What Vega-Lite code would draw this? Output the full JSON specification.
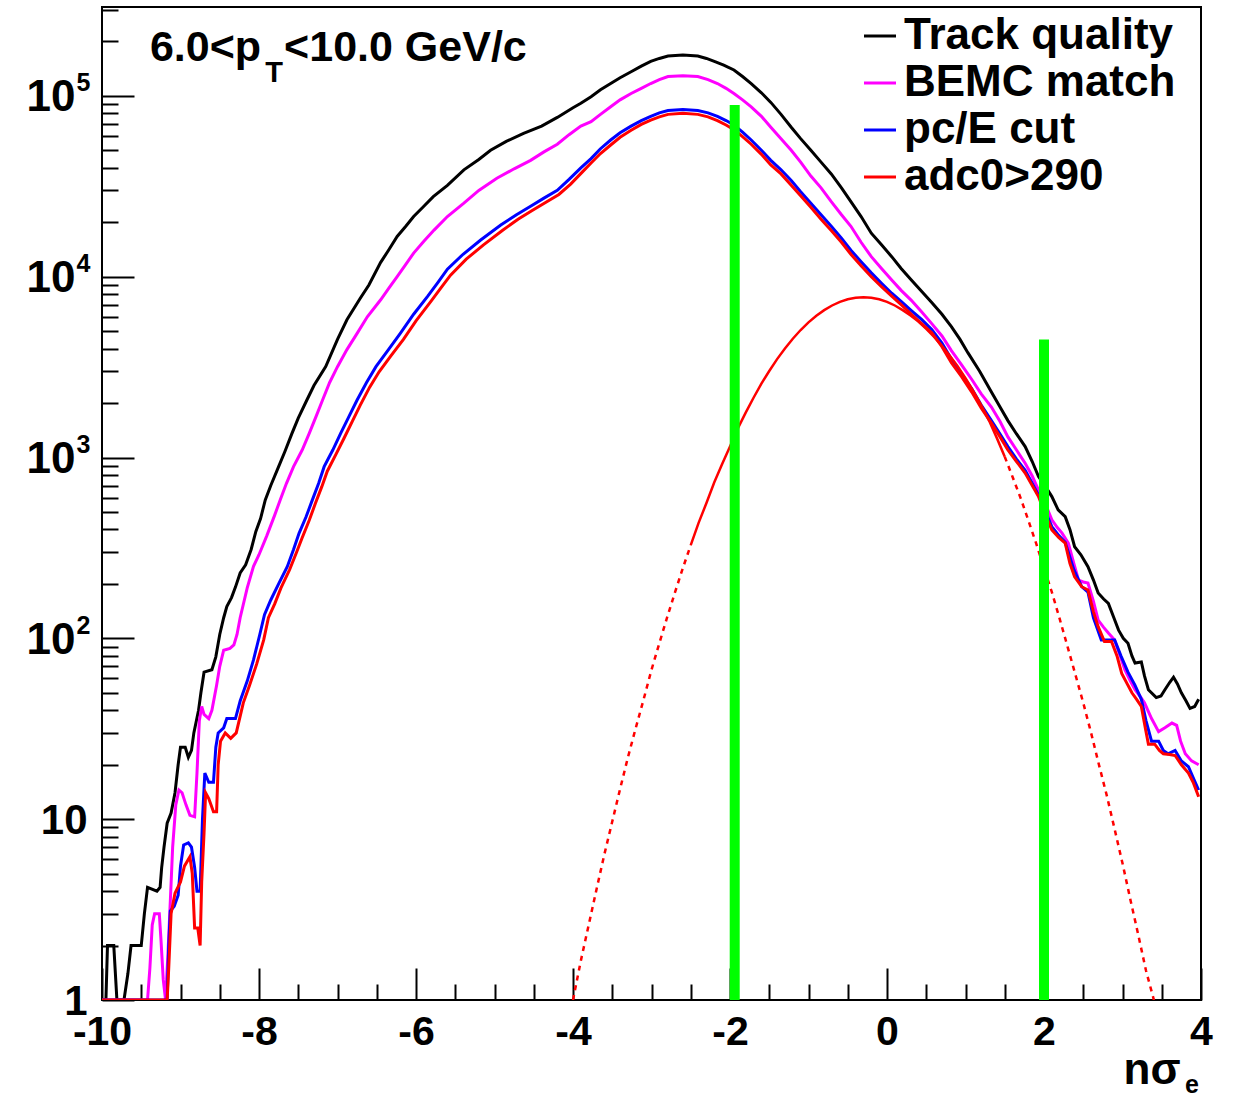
{
  "$schema": "https://vega.github.io/schema/vega-lite/v6.json",
  "width": 1099,
  "height": 993,
  "autosize": {"type": "none"},
  "padding": {"left": 102, "top": 7, "right": 32, "bottom": 99},
  "background": "white",
  "config": {
    "view": {"stroke": "black", "strokeWidth": 2},
    "font": "Liberation Sans",
    "axis": {"grid": false, "domain": false, "labelFont": "Liberation Sans", "labelFontWeight": "bold", "labelColor": "black", "tickColor": "black", "tickWidth": 2, "titleFont": "Liberation Sans", "titleFontWeight": "bold", "titleColor": "black"},
    "legend": {"labelFont": "Liberation Sans", "labelFontWeight": "bold", "labelColor": "black"}
  },
  "datasets": {
    "hist": [
      {"series":"Track quality","x":-10,"y":1},{"series":"Track quality","x":-9.95,"y":1},{"series":"Track quality","x":-9.93,"y":2},{"series":"Track quality","x":-9.85,"y":2},{"series":"Track quality","x":-9.81,"y":1},{"series":"Track quality","x":-9.72,"y":1},{"series":"Track quality","x":-9.67,"y":1.4},{"series":"Track quality","x":-9.63,"y":2},{"series":"Track quality","x":-9.5,"y":2},{"series":"Track quality","x":-9.46,"y":3},{"series":"Track quality","x":-9.42,"y":4.2},{"series":"Track quality","x":-9.3,"y":4},{"series":"Track quality","x":-9.26,"y":4.2},{"series":"Track quality","x":-9.24,"y":5.4},{"series":"Track quality","x":-9.21,"y":7},{"series":"Track quality","x":-9.17,"y":9.5},{"series":"Track quality","x":-9.12,"y":10.8},{"series":"Track quality","x":-9.07,"y":14},{"series":"Track quality","x":-9.03,"y":20},{"series":"Track quality","x":-9.0,"y":25},{"series":"Track quality","x":-8.94,"y":25},{"series":"Track quality","x":-8.9,"y":22},{"series":"Track quality","x":-8.86,"y":24},{"series":"Track quality","x":-8.83,"y":30},{"series":"Track quality","x":-8.77,"y":40},{"series":"Track quality","x":-8.74,"y":50},{"series":"Track quality","x":-8.7,"y":65},{"series":"Track quality","x":-8.6,"y":67},{"series":"Track quality","x":-8.55,"y":79},{"series":"Track quality","x":-8.5,"y":105},{"series":"Track quality","x":-8.45,"y":130},{"series":"Track quality","x":-8.41,"y":150},{"series":"Track quality","x":-8.35,"y":168},{"series":"Track quality","x":-8.3,"y":192},{"series":"Track quality","x":-8.24,"y":230},{"series":"Track quality","x":-8.17,"y":255},{"series":"Track quality","x":-8.1,"y":310},{"series":"Track quality","x":-8.04,"y":390},{"series":"Track quality","x":-7.98,"y":460},{"series":"Track quality","x":-7.92,"y":583},{"series":"Track quality","x":-7.85,"y":700},{"series":"Track quality","x":-7.75,"y":890},{"series":"Track quality","x":-7.67,"y":1080},{"series":"Track quality","x":-7.58,"y":1360},{"series":"Track quality","x":-7.5,"y":1650},{"series":"Track quality","x":-7.39,"y":2080},{"series":"Track quality","x":-7.3,"y":2500},{"series":"Track quality","x":-7.15,"y":3180},{"series":"Track quality","x":-7.0,"y":4500},{"series":"Track quality","x":-6.88,"y":5780},{"series":"Track quality","x":-6.71,"y":7600},{"series":"Track quality","x":-6.6,"y":9000},{"series":"Track quality","x":-6.45,"y":12000},{"series":"Track quality","x":-6.35,"y":14000},{"series":"Track quality","x":-6.24,"y":16700},{"series":"Track quality","x":-6.13,"y":19000},{"series":"Track quality","x":-6.03,"y":21500},{"series":"Track quality","x":-5.9,"y":24500},{"series":"Track quality","x":-5.78,"y":27700},{"series":"Track quality","x":-5.6,"y":32000},{"series":"Track quality","x":-5.39,"y":39000},{"series":"Track quality","x":-5.2,"y":44500},{"series":"Track quality","x":-5.05,"y":50000},{"series":"Track quality","x":-4.85,"y":56000},{"series":"Track quality","x":-4.63,"y":62000},{"series":"Track quality","x":-4.4,"y":68000},{"series":"Track quality","x":-4.2,"y":76000},{"series":"Track quality","x":-4.0,"y":86000},{"series":"Track quality","x":-3.9,"y":91000},{"series":"Track quality","x":-3.77,"y":99000},{"series":"Track quality","x":-3.65,"y":108000},{"series":"Track quality","x":-3.52,"y":117000},{"series":"Track quality","x":-3.4,"y":126000},{"series":"Track quality","x":-3.26,"y":136000},{"series":"Track quality","x":-3.13,"y":146000},{"series":"Track quality","x":-3.01,"y":155000},{"series":"Track quality","x":-2.9,"y":161000},{"series":"Track quality","x":-2.79,"y":166000},{"series":"Track quality","x":-2.6,"y":168000},{"series":"Track quality","x":-2.41,"y":166000},{"series":"Track quality","x":-2.3,"y":161000},{"series":"Track quality","x":-2.2,"y":155000},{"series":"Track quality","x":-2.08,"y":148000},{"series":"Track quality","x":-1.95,"y":139000},{"series":"Track quality","x":-1.84,"y":128000},{"series":"Track quality","x":-1.73,"y":117000},{"series":"Track quality","x":-1.6,"y":104000},{"series":"Track quality","x":-1.48,"y":92000},{"series":"Track quality","x":-1.35,"y":79000},{"series":"Track quality","x":-1.22,"y":67000},{"series":"Track quality","x":-1.1,"y":58000},{"series":"Track quality","x":-0.97,"y":50000},{"series":"Track quality","x":-0.84,"y":43000},{"series":"Track quality","x":-0.71,"y":37000},{"series":"Track quality","x":-0.58,"y":31000},{"series":"Track quality","x":-0.46,"y":26000},{"series":"Track quality","x":-0.33,"y":21500},{"series":"Track quality","x":-0.2,"y":17400},{"series":"Track quality","x":-0.07,"y":15000},{"series":"Track quality","x":0.06,"y":12900},{"series":"Track quality","x":0.18,"y":11100},{"series":"Track quality","x":0.31,"y":9600},{"series":"Track quality","x":0.44,"y":8300},{"series":"Track quality","x":0.57,"y":7200},{"series":"Track quality","x":0.7,"y":6200},{"series":"Track quality","x":0.82,"y":5300},{"series":"Track quality","x":0.93,"y":4500},{"series":"Track quality","x":1.03,"y":3800},{"series":"Track quality","x":1.18,"y":3000},{"series":"Track quality","x":1.33,"y":2300},{"series":"Track quality","x":1.44,"y":1900},{"series":"Track quality","x":1.54,"y":1600},{"series":"Track quality","x":1.65,"y":1350},{"series":"Track quality","x":1.76,"y":1150},{"series":"Track quality","x":1.85,"y":950},{"series":"Track quality","x":1.93,"y":784},{"series":"Track quality","x":2.02,"y":690},{"series":"Track quality","x":2.1,"y":608},{"series":"Track quality","x":2.18,"y":514},{"series":"Track quality","x":2.27,"y":471},{"series":"Track quality","x":2.33,"y":400},{"series":"Track quality","x":2.39,"y":321},{"series":"Track quality","x":2.47,"y":290},{"series":"Track quality","x":2.56,"y":249},{"series":"Track quality","x":2.63,"y":210},{"series":"Track quality","x":2.69,"y":178},{"series":"Track quality","x":2.76,"y":165},{"series":"Track quality","x":2.82,"y":156},{"series":"Track quality","x":2.89,"y":130},{"series":"Track quality","x":2.95,"y":111},{"series":"Track quality","x":3.01,"y":100},{"series":"Track quality","x":3.07,"y":94},{"series":"Track quality","x":3.12,"y":80},{"series":"Track quality","x":3.16,"y":73},{"series":"Track quality","x":3.24,"y":74},{"series":"Track quality","x":3.28,"y":62},{"series":"Track quality","x":3.33,"y":52},{"series":"Track quality","x":3.43,"y":47},{"series":"Track quality","x":3.49,"y":48},{"series":"Track quality","x":3.54,"y":52},{"series":"Track quality","x":3.6,"y":57},{"series":"Track quality","x":3.65,"y":61},{"series":"Track quality","x":3.7,"y":56},{"series":"Track quality","x":3.75,"y":50},{"series":"Track quality","x":3.81,"y":45},{"series":"Track quality","x":3.86,"y":41},{"series":"Track quality","x":3.92,"y":42},{"series":"Track quality","x":3.97,"y":46},

      {"series":"BEMC match","x":-10,"y":1},{"series":"BEMC match","x":-9.42,"y":1},{"series":"BEMC match","x":-9.39,"y":1.5},{"series":"BEMC match","x":-9.36,"y":2.6},{"series":"BEMC match","x":-9.33,"y":3},{"series":"BEMC match","x":-9.27,"y":3},{"series":"BEMC match","x":-9.25,"y":2.2},{"series":"BEMC match","x":-9.22,"y":1.3},{"series":"BEMC match","x":-9.19,"y":1},{"series":"BEMC match","x":-9.16,"y":1.8},{"series":"BEMC match","x":-9.13,"y":3.5},{"series":"BEMC match","x":-9.1,"y":7},{"series":"BEMC match","x":-9.06,"y":12},{"series":"BEMC match","x":-9.02,"y":14.5},{"series":"BEMC match","x":-8.98,"y":14},{"series":"BEMC match","x":-8.93,"y":12},{"series":"BEMC match","x":-8.88,"y":10.5},{"series":"BEMC match","x":-8.82,"y":10.3},{"series":"BEMC match","x":-8.79,"y":18},{"series":"BEMC match","x":-8.76,"y":35},{"series":"BEMC match","x":-8.73,"y":42},{"series":"BEMC match","x":-8.7,"y":38},{"series":"BEMC match","x":-8.64,"y":36},{"series":"BEMC match","x":-8.6,"y":40},{"series":"BEMC match","x":-8.54,"y":55},{"series":"BEMC match","x":-8.5,"y":70},{"series":"BEMC match","x":-8.45,"y":86},{"series":"BEMC match","x":-8.37,"y":88},{"series":"BEMC match","x":-8.32,"y":92},{"series":"BEMC match","x":-8.28,"y":105},{"series":"BEMC match","x":-8.24,"y":130},{"series":"BEMC match","x":-8.15,"y":190},{"series":"BEMC match","x":-8.07,"y":250},{"series":"BEMC match","x":-8.0,"y":290},{"series":"BEMC match","x":-7.9,"y":370},{"series":"BEMC match","x":-7.8,"y":480},{"series":"BEMC match","x":-7.73,"y":583},{"series":"BEMC match","x":-7.65,"y":720},{"series":"BEMC match","x":-7.56,"y":890},{"series":"BEMC match","x":-7.45,"y":1100},{"series":"BEMC match","x":-7.36,"y":1360},{"series":"BEMC match","x":-7.27,"y":1700},{"series":"BEMC match","x":-7.19,"y":2080},{"series":"BEMC match","x":-7.1,"y":2600},{"series":"BEMC match","x":-7.0,"y":3180},{"series":"BEMC match","x":-6.88,"y":3950},{"series":"BEMC match","x":-6.75,"y":4860},{"series":"BEMC match","x":-6.62,"y":6000},{"series":"BEMC match","x":-6.45,"y":7450},{"series":"BEMC match","x":-6.35,"y":8600},{"series":"BEMC match","x":-6.24,"y":10000},{"series":"BEMC match","x":-6.13,"y":11700},{"series":"BEMC match","x":-6.03,"y":13500},{"series":"BEMC match","x":-5.9,"y":15700},{"series":"BEMC match","x":-5.77,"y":18100},{"series":"BEMC match","x":-5.6,"y":21500},{"series":"BEMC match","x":-5.39,"y":25500},{"series":"BEMC match","x":-5.2,"y":30000},{"series":"BEMC match","x":-4.97,"y":35000},{"series":"BEMC match","x":-4.75,"y":39500},{"series":"BEMC match","x":-4.54,"y":44000},{"series":"BEMC match","x":-4.37,"y":49000},{"series":"BEMC match","x":-4.2,"y":54000},{"series":"BEMC match","x":-4.05,"y":61000},{"series":"BEMC match","x":-3.9,"y":68000},{"series":"BEMC match","x":-3.77,"y":72000},{"series":"BEMC match","x":-3.65,"y":79000},{"series":"BEMC match","x":-3.52,"y":87000},{"series":"BEMC match","x":-3.4,"y":95000},{"series":"BEMC match","x":-3.26,"y":103000},{"series":"BEMC match","x":-3.13,"y":110000},{"series":"BEMC match","x":-3.01,"y":117000},{"series":"BEMC match","x":-2.9,"y":123000},{"series":"BEMC match","x":-2.79,"y":128000},{"series":"BEMC match","x":-2.6,"y":129000},{"series":"BEMC match","x":-2.41,"y":128000},{"series":"BEMC match","x":-2.28,"y":123000},{"series":"BEMC match","x":-2.16,"y":117000},{"series":"BEMC match","x":-2.05,"y":110000},{"series":"BEMC match","x":-1.95,"y":103000},{"series":"BEMC match","x":-1.84,"y":95000},{"series":"BEMC match","x":-1.73,"y":87000},{"series":"BEMC match","x":-1.6,"y":77000},{"series":"BEMC match","x":-1.48,"y":67000},{"series":"BEMC match","x":-1.35,"y":58000},{"series":"BEMC match","x":-1.22,"y":50000},{"series":"BEMC match","x":-1.1,"y":43000},{"series":"BEMC match","x":-0.97,"y":36000},{"series":"BEMC match","x":-0.84,"y":31000},{"series":"BEMC match","x":-0.71,"y":26000},{"series":"BEMC match","x":-0.58,"y":22000},{"series":"BEMC match","x":-0.46,"y":19000},{"series":"BEMC match","x":-0.33,"y":15500},{"series":"BEMC match","x":-0.2,"y":12900},{"series":"BEMC match","x":-0.07,"y":11100},{"series":"BEMC match","x":0.06,"y":9600},{"series":"BEMC match","x":0.18,"y":8400},{"series":"BEMC match","x":0.31,"y":7400},{"series":"BEMC match","x":0.44,"y":6400},{"series":"BEMC match","x":0.57,"y":5500},{"series":"BEMC match","x":0.7,"y":4700},{"series":"BEMC match","x":0.82,"y":3900},{"series":"BEMC match","x":0.95,"y":3250},{"series":"BEMC match","x":1.08,"y":2700},{"series":"BEMC match","x":1.2,"y":2250},{"series":"BEMC match","x":1.33,"y":1900},{"series":"BEMC match","x":1.44,"y":1580},{"series":"BEMC match","x":1.54,"y":1300},{"series":"BEMC match","x":1.65,"y":1100},{"series":"BEMC match","x":1.76,"y":930},{"series":"BEMC match","x":1.85,"y":790},{"series":"BEMC match","x":1.93,"y":660},{"series":"BEMC match","x":2.02,"y":550},{"series":"BEMC match","x":2.1,"y":452},{"series":"BEMC match","x":2.17,"y":410},{"series":"BEMC match","x":2.23,"y":382},{"series":"BEMC match","x":2.31,"y":336},{"series":"BEMC match","x":2.38,"y":260},{"series":"BEMC match","x":2.44,"y":210},{"series":"BEMC match","x":2.5,"y":205},{"series":"BEMC match","x":2.56,"y":202},{"series":"BEMC match","x":2.63,"y":160},{"series":"BEMC match","x":2.69,"y":126},{"series":"BEMC match","x":2.76,"y":115},{"series":"BEMC match","x":2.82,"y":107},{"series":"BEMC match","x":2.9,"y":98},{"series":"BEMC match","x":2.97,"y":80},{"series":"BEMC match","x":3.03,"y":67},{"series":"BEMC match","x":3.1,"y":58},{"series":"BEMC match","x":3.16,"y":52},{"series":"BEMC match","x":3.22,"y":48},{"series":"BEMC match","x":3.28,"y":44},{"series":"BEMC match","x":3.37,"y":36},{"series":"BEMC match","x":3.46,"y":30.5},{"series":"BEMC match","x":3.54,"y":32},{"series":"BEMC match","x":3.63,"y":34},{"series":"BEMC match","x":3.69,"y":33},{"series":"BEMC match","x":3.74,"y":27},{"series":"BEMC match","x":3.8,"y":23},{"series":"BEMC match","x":3.88,"y":21},{"series":"BEMC match","x":3.97,"y":20},

      {"series":"pc/E cut","x":-10,"y":1},{"series":"pc/E cut","x":-9.17,"y":1},{"series":"pc/E cut","x":-9.15,"y":2},{"series":"pc/E cut","x":-9.13,"y":3.1},{"series":"pc/E cut","x":-9.08,"y":3.3},{"series":"pc/E cut","x":-9.03,"y":3.8},{"series":"pc/E cut","x":-9.0,"y":5.5},{"series":"pc/E cut","x":-8.96,"y":7.2},{"series":"pc/E cut","x":-8.9,"y":7.4},{"series":"pc/E cut","x":-8.86,"y":7},{"series":"pc/E cut","x":-8.82,"y":5.4},{"series":"pc/E cut","x":-8.79,"y":4},{"series":"pc/E cut","x":-8.75,"y":4},{"series":"pc/E cut","x":-8.72,"y":10},{"series":"pc/E cut","x":-8.69,"y":18},{"series":"pc/E cut","x":-8.64,"y":16},{"series":"pc/E cut","x":-8.58,"y":16},{"series":"pc/E cut","x":-8.55,"y":25},{"series":"pc/E cut","x":-8.52,"y":30},{"series":"pc/E cut","x":-8.45,"y":32},{"series":"pc/E cut","x":-8.41,"y":36},{"series":"pc/E cut","x":-8.3,"y":36},{"series":"pc/E cut","x":-8.24,"y":45},{"series":"pc/E cut","x":-8.15,"y":58},{"series":"pc/E cut","x":-8.07,"y":76},{"series":"pc/E cut","x":-7.99,"y":105},{"series":"pc/E cut","x":-7.93,"y":135},{"series":"pc/E cut","x":-7.85,"y":163},{"series":"pc/E cut","x":-7.75,"y":200},{"series":"pc/E cut","x":-7.64,"y":249},{"series":"pc/E cut","x":-7.56,"y":310},{"series":"pc/E cut","x":-7.49,"y":381},{"series":"pc/E cut","x":-7.4,"y":470},{"series":"pc/E cut","x":-7.32,"y":583},{"series":"pc/E cut","x":-7.24,"y":720},{"series":"pc/E cut","x":-7.17,"y":890},{"series":"pc/E cut","x":-7.06,"y":1100},{"series":"pc/E cut","x":-6.96,"y":1360},{"series":"pc/E cut","x":-6.85,"y":1700},{"series":"pc/E cut","x":-6.75,"y":2080},{"series":"pc/E cut","x":-6.63,"y":2600},{"series":"pc/E cut","x":-6.51,"y":3180},{"series":"pc/E cut","x":-6.36,"y":3900},{"series":"pc/E cut","x":-6.2,"y":4860},{"series":"pc/E cut","x":-6.03,"y":6200},{"series":"pc/E cut","x":-5.85,"y":7800},{"series":"pc/E cut","x":-5.72,"y":9300},{"series":"pc/E cut","x":-5.6,"y":11000},{"series":"pc/E cut","x":-5.4,"y":13300},{"series":"pc/E cut","x":-5.18,"y":15900},{"series":"pc/E cut","x":-4.92,"y":19300},{"series":"pc/E cut","x":-4.72,"y":22000},{"series":"pc/E cut","x":-4.54,"y":24500},{"series":"pc/E cut","x":-4.37,"y":27200},{"series":"pc/E cut","x":-4.2,"y":30000},{"series":"pc/E cut","x":-4.05,"y":34500},{"series":"pc/E cut","x":-3.9,"y":40000},{"series":"pc/E cut","x":-3.77,"y":45000},{"series":"pc/E cut","x":-3.65,"y":51000},{"series":"pc/E cut","x":-3.52,"y":57000},{"series":"pc/E cut","x":-3.4,"y":62500},{"series":"pc/E cut","x":-3.26,"y":68000},{"series":"pc/E cut","x":-3.13,"y":73000},{"series":"pc/E cut","x":-3.01,"y":77000},{"series":"pc/E cut","x":-2.9,"y":80500},{"series":"pc/E cut","x":-2.79,"y":83000},{"series":"pc/E cut","x":-2.6,"y":84000},{"series":"pc/E cut","x":-2.41,"y":83000},{"series":"pc/E cut","x":-2.28,"y":80500},{"series":"pc/E cut","x":-2.16,"y":77000},{"series":"pc/E cut","x":-2.05,"y":73000},{"series":"pc/E cut","x":-1.95,"y":69000},{"series":"pc/E cut","x":-1.84,"y":63000},{"series":"pc/E cut","x":-1.73,"y":57000},{"series":"pc/E cut","x":-1.6,"y":50000},{"series":"pc/E cut","x":-1.48,"y":44000},{"series":"pc/E cut","x":-1.35,"y":39000},{"series":"pc/E cut","x":-1.22,"y":34000},{"series":"pc/E cut","x":-1.1,"y":29500},{"series":"pc/E cut","x":-0.97,"y":25500},{"series":"pc/E cut","x":-0.84,"y":22000},{"series":"pc/E cut","x":-0.71,"y":19000},{"series":"pc/E cut","x":-0.58,"y":16300},{"series":"pc/E cut","x":-0.46,"y":14000},{"series":"pc/E cut","x":-0.33,"y":12100},{"series":"pc/E cut","x":-0.2,"y":10500},{"series":"pc/E cut","x":-0.07,"y":9200},{"series":"pc/E cut","x":0.06,"y":8100},{"series":"pc/E cut","x":0.18,"y":7300},{"series":"pc/E cut","x":0.31,"y":6500},{"series":"pc/E cut","x":0.44,"y":5800},{"series":"pc/E cut","x":0.57,"y":5100},{"series":"pc/E cut","x":0.7,"y":4300},{"series":"pc/E cut","x":0.82,"y":3500},{"series":"pc/E cut","x":0.95,"y":2900},{"series":"pc/E cut","x":1.08,"y":2400},{"series":"pc/E cut","x":1.2,"y":1950},{"series":"pc/E cut","x":1.33,"y":1600},{"series":"pc/E cut","x":1.44,"y":1350},{"series":"pc/E cut","x":1.54,"y":1150},{"series":"pc/E cut","x":1.65,"y":980},{"series":"pc/E cut","x":1.76,"y":850},{"series":"pc/E cut","x":1.85,"y":720},{"series":"pc/E cut","x":1.93,"y":620},{"series":"pc/E cut","x":2.02,"y":500},{"series":"pc/E cut","x":2.1,"y":415},{"series":"pc/E cut","x":2.19,"y":370},{"series":"pc/E cut","x":2.27,"y":340},{"series":"pc/E cut","x":2.38,"y":240},{"series":"pc/E cut","x":2.48,"y":193},{"series":"pc/E cut","x":2.56,"y":180},{"series":"pc/E cut","x":2.63,"y":130},{"series":"pc/E cut","x":2.73,"y":98},{"series":"pc/E cut","x":2.82,"y":98},{"series":"pc/E cut","x":2.9,"y":98},{"series":"pc/E cut","x":2.98,"y":80},{"series":"pc/E cut","x":3.07,"y":65},{"series":"pc/E cut","x":3.16,"y":55},{"series":"pc/E cut","x":3.24,"y":46},{"series":"pc/E cut","x":3.3,"y":35},{"series":"pc/E cut","x":3.37,"y":27},{"series":"pc/E cut","x":3.46,"y":27},{"series":"pc/E cut","x":3.52,"y":24},{"series":"pc/E cut","x":3.58,"y":23},{"series":"pc/E cut","x":3.67,"y":24},{"series":"pc/E cut","x":3.75,"y":21},{"series":"pc/E cut","x":3.84,"y":19.5},{"series":"pc/E cut","x":3.9,"y":17},{"series":"pc/E cut","x":3.97,"y":14.5},

      {"series":"adc0>290","x":-10,"y":1},{"series":"adc0>290","x":-9.17,"y":1},{"series":"adc0>290","x":-9.15,"y":1.5},{"series":"adc0>290","x":-9.12,"y":3},{"series":"adc0>290","x":-9.07,"y":3.9},{"series":"adc0>290","x":-9.0,"y":4.5},{"series":"adc0>290","x":-8.95,"y":5.5},{"series":"adc0>290","x":-8.88,"y":6.2},{"series":"adc0>290","x":-8.85,"y":5},{"series":"adc0>290","x":-8.82,"y":2.5},{"series":"adc0>290","x":-8.78,"y":2.5},{"series":"adc0>290","x":-8.75,"y":2.0},{"series":"adc0>290","x":-8.73,"y":4.5},{"series":"adc0>290","x":-8.7,"y":8.4},{"series":"adc0>290","x":-8.68,"y":14},{"series":"adc0>290","x":-8.64,"y":13},{"series":"adc0>290","x":-8.58,"y":11},{"series":"adc0>290","x":-8.54,"y":11},{"series":"adc0>290","x":-8.52,"y":20},{"series":"adc0>290","x":-8.49,"y":27},{"series":"adc0>290","x":-8.43,"y":30},{"series":"adc0>290","x":-8.36,"y":28},{"series":"adc0>290","x":-8.29,"y":30},{"series":"adc0>290","x":-8.2,"y":44},{"series":"adc0>290","x":-8.12,"y":55},{"series":"adc0>290","x":-8.03,"y":72},{"series":"adc0>290","x":-7.94,"y":98},{"series":"adc0>290","x":-7.88,"y":130},{"series":"adc0>290","x":-7.8,"y":155},{"series":"adc0>290","x":-7.72,"y":190},{"series":"adc0>290","x":-7.61,"y":240},{"series":"adc0>290","x":-7.52,"y":300},{"series":"adc0>290","x":-7.45,"y":360},{"series":"adc0>290","x":-7.36,"y":450},{"series":"adc0>290","x":-7.28,"y":560},{"series":"adc0>290","x":-7.2,"y":690},{"series":"adc0>290","x":-7.13,"y":840},{"series":"adc0>290","x":-7.02,"y":1040},{"series":"adc0>290","x":-6.92,"y":1270},{"series":"adc0>290","x":-6.81,"y":1590},{"series":"adc0>290","x":-6.71,"y":1950},{"series":"adc0>290","x":-6.59,"y":2450},{"series":"adc0>290","x":-6.47,"y":2980},{"series":"adc0>290","x":-6.32,"y":3650},{"series":"adc0>290","x":-6.16,"y":4500},{"series":"adc0>290","x":-6.0,"y":5700},{"series":"adc0>290","x":-5.81,"y":7300},{"series":"adc0>290","x":-5.68,"y":8700},{"series":"adc0>290","x":-5.56,"y":10200},{"series":"adc0>290","x":-5.36,"y":12500},{"series":"adc0>290","x":-5.14,"y":15000},{"series":"adc0>290","x":-4.9,"y":18000},{"series":"adc0>290","x":-4.7,"y":20800},{"series":"adc0>290","x":-4.52,"y":23200},{"series":"adc0>290","x":-4.35,"y":25700},{"series":"adc0>290","x":-4.18,"y":28500},{"series":"adc0>290","x":-4.03,"y":32500},{"series":"adc0>290","x":-3.88,"y":38000},{"series":"adc0>290","x":-3.77,"y":42500},{"series":"adc0>290","x":-3.65,"y":48000},{"series":"adc0>290","x":-3.52,"y":53500},{"series":"adc0>290","x":-3.4,"y":59000},{"series":"adc0>290","x":-3.26,"y":64500},{"series":"adc0>290","x":-3.13,"y":69500},{"series":"adc0>290","x":-3.01,"y":73500},{"series":"adc0>290","x":-2.9,"y":76500},{"series":"adc0>290","x":-2.79,"y":79000},{"series":"adc0>290","x":-2.6,"y":80000},{"series":"adc0>290","x":-2.41,"y":79000},{"series":"adc0>290","x":-2.28,"y":76500},{"series":"adc0>290","x":-2.16,"y":73000},{"series":"adc0>290","x":-2.05,"y":69000},{"series":"adc0>290","x":-1.95,"y":65000},{"series":"adc0>290","x":-1.84,"y":59500},{"series":"adc0>290","x":-1.73,"y":54000},{"series":"adc0>290","x":-1.6,"y":47500},{"series":"adc0>290","x":-1.48,"y":41500},{"series":"adc0>290","x":-1.35,"y":37000},{"series":"adc0>290","x":-1.22,"y":32000},{"series":"adc0>290","x":-1.1,"y":28000},{"series":"adc0>290","x":-0.97,"y":24200},{"series":"adc0>290","x":-0.84,"y":20800},{"series":"adc0>290","x":-0.71,"y":18000},{"series":"adc0>290","x":-0.58,"y":15500},{"series":"adc0>290","x":-0.46,"y":13300},{"series":"adc0>290","x":-0.33,"y":11500},{"series":"adc0>290","x":-0.2,"y":10000},{"series":"adc0>290","x":-0.07,"y":8800},{"series":"adc0>290","x":0.06,"y":7800},{"series":"adc0>290","x":0.18,"y":7000},{"series":"adc0>290","x":0.31,"y":6200},{"series":"adc0>290","x":0.44,"y":5500},{"series":"adc0>290","x":0.57,"y":4900},{"series":"adc0>290","x":0.7,"y":4100},{"series":"adc0>290","x":0.82,"y":3350},{"series":"adc0>290","x":0.95,"y":2800},{"series":"adc0>290","x":1.08,"y":2300},{"series":"adc0>290","x":1.2,"y":1880},{"series":"adc0>290","x":1.33,"y":1550},{"series":"adc0>290","x":1.44,"y":1300},{"series":"adc0>290","x":1.54,"y":1100},{"series":"adc0>290","x":1.65,"y":950},{"series":"adc0>290","x":1.76,"y":820},{"series":"adc0>290","x":1.85,"y":700},{"series":"adc0>290","x":1.93,"y":608},{"series":"adc0>290","x":2.02,"y":480},{"series":"adc0>290","x":2.1,"y":398},{"series":"adc0>290","x":2.19,"y":360},{"series":"adc0>290","x":2.27,"y":336},{"series":"adc0>290","x":2.33,"y":260},{"series":"adc0>290","x":2.39,"y":219},{"series":"adc0>290","x":2.48,"y":193},{"series":"adc0>290","x":2.56,"y":185},{"series":"adc0>290","x":2.63,"y":140},{"series":"adc0>290","x":2.69,"y":116},{"series":"adc0>290","x":2.77,"y":96},{"series":"adc0>290","x":2.86,"y":96},{"series":"adc0>290","x":2.93,"y":80},{"series":"adc0>290","x":2.99,"y":64},{"series":"adc0>290","x":3.06,"y":56},{"series":"adc0>290","x":3.12,"y":50},{"series":"adc0>290","x":3.18,"y":46},{"series":"adc0>290","x":3.24,"y":42},{"series":"adc0>290","x":3.29,"y":32},{"series":"adc0>290","x":3.33,"y":26},{"series":"adc0>290","x":3.41,"y":26},{"series":"adc0>290","x":3.47,"y":24},{"series":"adc0>290","x":3.52,"y":23},{"series":"adc0>290","x":3.6,"y":22.8},{"series":"adc0>290","x":3.67,"y":22.5},{"series":"adc0>290","x":3.75,"y":20},{"series":"adc0>290","x":3.84,"y":18},{"series":"adc0>290","x":3.9,"y":16},{"series":"adc0>290","x":3.97,"y":13.3}
    ],
    "gauss": [
      {"part":"dotted","seg":"L","x":-4.0,"y":1.0},{"part":"dotted","seg":"L","x":-3.9,"y":1.65},{"part":"dotted","seg":"L","x":-3.8,"y":2.6},{"part":"dotted","seg":"L","x":-3.7,"y":4.1},{"part":"dotted","seg":"L","x":-3.6,"y":6.4},{"part":"dotted","seg":"L","x":-3.5,"y":9.7},{"part":"dotted","seg":"L","x":-3.4,"y":14.7},{"part":"dotted","seg":"L","x":-3.3,"y":22},{"part":"dotted","seg":"L","x":-3.2,"y":32},{"part":"dotted","seg":"L","x":-3.1,"y":46},{"part":"dotted","seg":"L","x":-3.0,"y":67},{"part":"dotted","seg":"L","x":-2.9,"y":94},{"part":"dotted","seg":"L","x":-2.8,"y":131},{"part":"dotted","seg":"L","x":-2.7,"y":180},{"part":"dotted","seg":"L","x":-2.6,"y":245},{"part":"dotted","seg":"L","x":-2.5,"y":328},
      {"part":"solid","seg":"M","x":-2.5,"y":328},{"part":"solid","seg":"M","x":-2.4,"y":435},{"part":"solid","seg":"M","x":-2.3,"y":560},{"part":"solid","seg":"M","x":-2.2,"y":730},{"part":"solid","seg":"M","x":-2.1,"y":920},{"part":"solid","seg":"M","x":-2.0,"y":1150},{"part":"solid","seg":"M","x":-1.9,"y":1450},{"part":"solid","seg":"M","x":-1.8,"y":1770},{"part":"solid","seg":"M","x":-1.7,"y":2140},{"part":"solid","seg":"M","x":-1.6,"y":2560},{"part":"solid","seg":"M","x":-1.5,"y":3010},{"part":"solid","seg":"M","x":-1.4,"y":3500},{"part":"solid","seg":"M","x":-1.3,"y":4010},{"part":"solid","seg":"M","x":-1.2,"y":4540},{"part":"solid","seg":"M","x":-1.1,"y":5070},{"part":"solid","seg":"M","x":-1.0,"y":5590},{"part":"solid","seg":"M","x":-0.9,"y":6080},{"part":"solid","seg":"M","x":-0.8,"y":6530},{"part":"solid","seg":"M","x":-0.7,"y":6930},{"part":"solid","seg":"M","x":-0.6,"y":7260},{"part":"solid","seg":"M","x":-0.5,"y":7500},{"part":"solid","seg":"M","x":-0.4,"y":7640},{"part":"solid","seg":"M","x":-0.3,"y":7690},{"part":"solid","seg":"M","x":-0.2,"y":7640},{"part":"solid","seg":"M","x":-0.1,"y":7500},{"part":"solid","seg":"M","x":0.0,"y":7260},{"part":"solid","seg":"M","x":0.1,"y":6930},{"part":"solid","seg":"M","x":0.2,"y":6530},{"part":"solid","seg":"M","x":0.3,"y":6100},{"part":"solid","seg":"M","x":0.4,"y":5650},{"part":"solid","seg":"M","x":0.5,"y":5150},{"part":"solid","seg":"M","x":0.6,"y":4650},{"part":"solid","seg":"M","x":0.7,"y":4150},{"part":"solid","seg":"M","x":0.8,"y":3650},{"part":"solid","seg":"M","x":0.9,"y":3200},{"part":"solid","seg":"M","x":1.0,"y":2750},{"part":"solid","seg":"M","x":1.1,"y":2330},{"part":"solid","seg":"M","x":1.2,"y":1950},{"part":"solid","seg":"M","x":1.3,"y":1600},{"part":"solid","seg":"M","x":1.4,"y":1280},{"part":"solid","seg":"M","x":1.5,"y":1010},
      {"part":"dotted","seg":"R","x":1.5,"y":1010},{"part":"dotted","seg":"R","x":1.6,"y":780},{"part":"dotted","seg":"R","x":1.7,"y":600},{"part":"dotted","seg":"R","x":1.8,"y":450},{"part":"dotted","seg":"R","x":1.9,"y":335},{"part":"dotted","seg":"R","x":2.0,"y":245},{"part":"dotted","seg":"R","x":2.1,"y":180},{"part":"dotted","seg":"R","x":2.2,"y":128},{"part":"dotted","seg":"R","x":2.3,"y":90},{"part":"dotted","seg":"R","x":2.4,"y":63},{"part":"dotted","seg":"R","x":2.5,"y":44},{"part":"dotted","seg":"R","x":2.6,"y":30},{"part":"dotted","seg":"R","x":2.7,"y":20},{"part":"dotted","seg":"R","x":2.8,"y":13.5},{"part":"dotted","seg":"R","x":2.9,"y":8.8},{"part":"dotted","seg":"R","x":3.0,"y":5.7},{"part":"dotted","seg":"R","x":3.1,"y":3.6},{"part":"dotted","seg":"R","x":3.2,"y":2.3},{"part":"dotted","seg":"R","x":3.3,"y":1.45},{"part":"dotted","seg":"R","x":3.4,"y":1.0}
    ],
    "cuts": [
      {"x": -1.94, "y": 1, "y2": 89000},
      {"x": 2.0, "y": 1, "y2": 4500}
    ],
    "labels": [
      {"part": "main", "x": -9.39, "y": 155800, "t": "6.0<p"},
      {"part": "main", "x": -7.68, "y": 155800, "t": "<10.0 GeV/c"},
      {"part": "sub", "x": -7.92, "y": 119300, "t": "T"},
      {"part": "axsub", "x": 3.795, "y": 0.306, "t": "e"}
    ]
  },
  "layer": [
    {
      "data": {"name": "hist"},
      "transform": [{"filter": "datum.series === 'Track quality'"}],
      "mark": {"type": "line", "strokeWidth": 3, "clip": true},
      "encoding": {
        "x": {"field": "x", "type": "quantitative", "scale": {"domain": [-10, 4], "nice": false, "zero": false},
              "axis": {"orient": "bottom", "values": [-10, -8, -6, -4, -2, 0, 2, 4], "ticks": false, "labelFontSize": 41, "labelPadding": 12, "labelFlush": false, "labelOverlap": false, "labelBound": false,
                       "labelExpr": "datum.value < 0 ? '-' + abs(datum.value) : '' + datum.value",
                       "title": "nσ", "titleFontSize": 44, "titleAnchor": "end", "titleAlign": "right", "titleBaseline": "alphabetic", "titleX": 1078, "titleY": 83}},
        "y": {"field": "y", "type": "quantitative", "scale": {"type": "log", "domain": [1, 310000], "nice": false},
              "axis": {"orient": "left", "values": [1, 10], "ticks": false, "labelFontSize": 42, "labelPadding": 15, "labelOffset": 1, "labelFlush": false, "labelOverlap": false, "labelBound": false,
                       "labelExpr": "datum.value == 1 ? '1' : '10'",
                       "title": null}},
        "color": {"field": "series", "type": "nominal",
                  "scale": {"domain": ["Track quality", "BEMC match", "pc/E cut", "adc0>290"], "range": ["#000000", "#ff00ff", "#0000ff", "#ff0000"]},
                  "legend": {"orient": "none", "legendX": 756, "legendY": 7, "title": null, "labelFontSize": 44, "symbolType": "stroke", "symbolSize": 1024, "symbolStrokeWidth": 3, "rowPadding": 3, "labelOffset": 2, "padding": 0, "labelLimit": 0}}
      }
    },
    {
      "data": {"name": "hist"},
      "transform": [{"filter": "datum.series === 'BEMC match'"}],
      "mark": {"type": "line", "strokeWidth": 3, "clip": true},
      "encoding": {
        "x": {"field": "x", "type": "quantitative", "scale": {"domain": [-10, 4], "nice": false, "zero": false}, "axis": null},
        "y": {"field": "y", "type": "quantitative", "scale": {"type": "log", "domain": [1, 310000], "nice": false}, "axis": null},
        "color": {"field": "series", "type": "nominal",
                  "scale": {"domain": ["Track quality", "BEMC match", "pc/E cut", "adc0>290"], "range": ["#000000", "#ff00ff", "#0000ff", "#ff0000"]},
                  "legend": {"orient": "none", "legendX": 756, "legendY": 7, "title": null, "labelFontSize": 44, "symbolType": "stroke", "symbolSize": 1024, "symbolStrokeWidth": 3, "rowPadding": 3, "labelOffset": 2, "padding": 0, "labelLimit": 0}}
      }
    },
    {
      "data": {"name": "hist"},
      "transform": [{"filter": "datum.series === 'pc/E cut'"}],
      "mark": {"type": "line", "strokeWidth": 3, "clip": true},
      "encoding": {
        "x": {"field": "x", "type": "quantitative", "scale": {"domain": [-10, 4], "nice": false, "zero": false}, "axis": null},
        "y": {"field": "y", "type": "quantitative", "scale": {"type": "log", "domain": [1, 310000], "nice": false}, "axis": null},
        "color": {"field": "series", "type": "nominal",
                  "scale": {"domain": ["Track quality", "BEMC match", "pc/E cut", "adc0>290"], "range": ["#000000", "#ff00ff", "#0000ff", "#ff0000"]},
                  "legend": {"orient": "none", "legendX": 756, "legendY": 7, "title": null, "labelFontSize": 44, "symbolType": "stroke", "symbolSize": 1024, "symbolStrokeWidth": 3, "rowPadding": 3, "labelOffset": 2, "padding": 0, "labelLimit": 0}}
      }
    },
    {
      "data": {"name": "hist"},
      "transform": [{"filter": "datum.series === 'adc0>290'"}],
      "mark": {"type": "line", "strokeWidth": 3, "clip": true},
      "encoding": {
        "x": {"field": "x", "type": "quantitative", "scale": {"domain": [-10, 4], "nice": false, "zero": false}, "axis": null},
        "y": {"field": "y", "type": "quantitative", "scale": {"type": "log", "domain": [1, 310000], "nice": false}, "axis": null},
        "color": {"field": "series", "type": "nominal",
                  "scale": {"domain": ["Track quality", "BEMC match", "pc/E cut", "adc0>290"], "range": ["#000000", "#ff00ff", "#0000ff", "#ff0000"]},
                  "legend": {"orient": "none", "legendX": 756, "legendY": 7, "title": null, "labelFontSize": 44, "symbolType": "stroke", "symbolSize": 1024, "symbolStrokeWidth": 3, "rowPadding": 3, "labelOffset": 2, "padding": 0, "labelLimit": 0}}
      }
    },
    {
      "data": {"name": "gauss"},
      "transform": [{"filter": "datum.part === 'solid'"}],
      "mark": {"type": "line", "strokeWidth": 2.5, "color": "#ff0000", "clip": true},
      "encoding": {
        "x": {"field": "x", "type": "quantitative", "scale": {"domain": [-10, 4], "nice": false, "zero": false},
              "axis": {"orient": "bottom", "values": [-10, -8, -6, -4, -2, 0, 2, 4], "labels": false, "ticks": true, "tickSize": -32, "title": null}},
        "y": {"field": "y", "type": "quantitative", "scale": {"type": "log", "domain": [1, 310000], "nice": false},
              "axis": {"orient": "left", "values": [1, 10, 100, 1000, 10000, 100000], "labels": false, "ticks": true, "tickSize": -32, "title": null}}
      }
    },
    {
      "data": {"name": "gauss"},
      "transform": [{"filter": "datum.part === 'dotted'"}],
      "mark": {"type": "line", "strokeWidth": 2.5, "color": "#ff0000", "strokeDash": [5, 5], "clip": true},
      "encoding": {
        "x": {"field": "x", "type": "quantitative", "scale": {"domain": [-10, 4], "nice": false, "zero": false},
              "axis": {"orient": "bottom", "values": [-9.5, -9, -8.5, -7.5, -7, -6.5, -5.5, -5, -4.5, -3.5, -3, -2.5, -1.5, -1, -0.5, 0.5, 1, 1.5, 2.5, 3, 3.5], "labels": false, "ticks": true, "tickSize": -16, "title": null}},
        "y": {"field": "y", "type": "quantitative", "scale": {"type": "log", "domain": [1, 310000], "nice": false},
              "axis": {"orient": "left", "values": [2, 3, 4, 5, 6, 7, 8, 9, 20, 30, 40, 50, 60, 70, 80, 90, 200, 300, 400, 500, 600, 700, 800, 900, 2000, 3000, 4000, 5000, 6000, 7000, 8000, 9000, 20000, 30000, 40000, 50000, 60000, 70000, 80000, 90000, 200000, 300000], "labels": false, "ticks": true, "tickSize": -16, "title": null}},
        "detail": {"field": "seg", "type": "nominal"}
      }
    },
    {
      "data": {"name": "cuts"},
      "mark": {"type": "rule", "strokeWidth": 10, "color": "#00ff00"},
      "encoding": {
        "x": {"field": "x", "type": "quantitative", "scale": {"domain": [-10, 4], "nice": false, "zero": false}, "axis": null},
        "y": {"field": "y", "type": "quantitative", "scale": {"type": "log", "domain": [1, 310000], "nice": false}, "axis": null},
        "y2": {"field": "y2"}
      }
    },
    {
      "data": {"name": "labels"},
      "transform": [{"filter": "datum.part === 'main'"}],
      "mark": {"type": "text", "align": "left", "baseline": "alphabetic", "font": "Liberation Sans", "fontWeight": "bold", "fontSize": 43, "color": "black"},
      "encoding": {
        "x": {"field": "x", "type": "quantitative", "scale": {"domain": [-10, 4], "nice": false, "zero": false}, "axis": null},
        "y": {"field": "y", "type": "quantitative", "scale": {"type": "log", "domain": [1, 310000], "nice": false},
              "axis": {"orient": "left", "values": [100, 1000, 10000, 100000], "ticks": false, "labelFontSize": 44, "labelPadding": 27, "labelOffset": 2, "labelFlush": false, "labelOverlap": false, "labelBound": false, "labelExpr": "'10'", "title": null}},
        "text": {"field": "t"}
      }
    },
    {
      "data": {"name": "labels"},
      "transform": [{"filter": "datum.part === 'sub'"}],
      "mark": {"type": "text", "align": "left", "baseline": "alphabetic", "font": "Liberation Sans", "fontWeight": "bold", "fontSize": 29, "color": "black"},
      "encoding": {
        "x": {"field": "x", "type": "quantitative", "scale": {"domain": [-10, 4], "nice": false, "zero": false}, "axis": null},
        "y": {"field": "y", "type": "quantitative", "scale": {"type": "log", "domain": [1, 310000], "nice": false},
              "axis": {"orient": "left", "values": [100, 1000, 10000, 100000], "ticks": false, "labelFontSize": 25, "labelPadding": 26, "labelAlign": "left", "labelOffset": -13, "labelFlush": false, "labelOverlap": false, "labelBound": false,
                       "labelExpr": "datum.value == 100 ? '2' : datum.value == 1000 ? '3' : datum.value == 10000 ? '4' : '5'", "title": null}},
        "text": {"field": "t"}
      }
    },
    {
      "data": {"name": "labels"},
      "transform": [{"filter": "datum.part === 'axsub'"}],
      "mark": {"type": "text", "align": "left", "baseline": "alphabetic", "font": "Liberation Sans", "fontWeight": "bold", "fontSize": 25, "color": "black"},
      "encoding": {
        "x": {"field": "x", "type": "quantitative", "scale": {"domain": [-10, 4], "nice": false, "zero": false}, "axis": null},
        "y": {"field": "y", "type": "quantitative", "scale": {"type": "log", "domain": [1, 310000], "nice": false}, "axis": null},
        "text": {"field": "t"}
      }
    }
  ],
  "resolve": {"axis": {"x": "independent", "y": "independent"}}
}
